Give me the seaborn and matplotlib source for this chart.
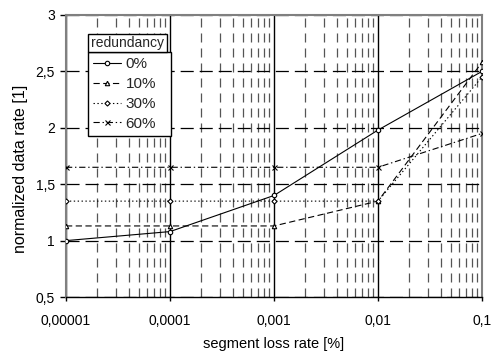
import matplotlib
matplotlib.use("Agg")
import matplotlib.pyplot as plt
import matplotlib.ticker as mticker
import seaborn as sns
import pandas as pd
from matplotlib.lines import Line2D
from matplotlib.patches import Rectangle

# Segment loss rates [%] and normalized data rate per redundancy level
loss_rate = [0.00001, 0.0001, 0.001, 0.01, 0.1]
rate_0 = [1.00, 1.08, 1.40, 1.98, 2.50]
rate_10 = [1.13, 1.13, 1.13, 1.35, 2.58]
rate_30 = [1.35, 1.35, 1.35, 1.35, 2.45]
rate_60 = [1.65, 1.65, 1.65, 1.65, 1.95]

series_labels = ["0%", "10%", "30%", "60%"]
x_tick_labels = ["0,00001", "0,0001", "0,001", "0,01", "0,1"]
y_ticks = [0.5, 1, 1.5, 2, 2.5, 3]
y_tick_labels = ["0,5", "1", "1,5", "2", "2,5", "3"]

sns.set_theme(style="white")
plt.rcParams["font.family"] = ["Liberation Sans", "DejaVu Sans"]
plt.rcParams["lines.scale_dashes"] = False

fig = plt.figure(figsize=(4.95, 3.51), dpi=100)
ax = fig.add_axes([0.1333, 0.1538, 0.8404, 0.8035])

styles = [
    dict(linestyle="-", marker="o"),
    dict(linestyle=(0, (4.5, 2.5)), marker="^"),
    dict(linestyle=(0, (1.0, 1.8)), marker="D"),
    dict(linestyle=(0, (4.5, 2, 1, 2)), marker="x"),
]
marker_sizes = [3.2, 3.2, 2.6, 3.6]

all_rates = [rate_0, rate_10, rate_30, rate_60]
df = pd.DataFrame({
    "loss": loss_rate * 4,
    "rate": [v for s in all_rates for v in s],
    "redundancy": [lab for lab in series_labels for _ in loss_rate],
})

handles = []
for lab, st, ms in zip(series_labels, styles, marker_sizes):
    sub = df[df["redundancy"] == lab]
    sns.lineplot(data=sub, x="loss", y="rate", ax=ax, color="black",
                 linewidth=0.8, linestyle=st["linestyle"], marker=st["marker"],
                 markersize=ms, markerfacecolor="white", markeredgecolor="black",
                 markeredgewidth=0.8, legend=False, zorder=5)
    handles.append(Line2D([], [], color="black", linewidth=0.8,
                          linestyle=st["linestyle"], marker=st["marker"],
                          markersize=ms, markerfacecolor="white",
                          markeredgecolor="black", markeredgewidth=0.8))

ax.set_xscale("log")
ax.set_xlim(0.00001, 0.1)
ax.set_ylim(0.5, 3)

ax.xaxis.set_major_locator(mticker.FixedLocator(loss_rate))
ax.xaxis.set_major_formatter(mticker.FixedFormatter(x_tick_labels))
ax.xaxis.set_minor_locator(mticker.LogLocator(base=10, subs=range(2, 10), numticks=20))
ax.xaxis.set_minor_formatter(mticker.NullFormatter())
ax.yaxis.set_major_locator(mticker.FixedLocator(y_ticks))
ax.yaxis.set_major_formatter(mticker.FixedFormatter(y_tick_labels))

# Gridlines: solid decades, dashed minor decades, dashed horizontal levels
ax.grid(which="major", axis="x", color="black", linewidth=1.0, linestyle="-", zorder=1)
ax.grid(which="minor", axis="x", color="#555555", linewidth=0.9, linestyle=(0, (6.5, 4.3)), zorder=1)
ax.grid(which="major", axis="y", color="black", linewidth=0.9, linestyle=(0, (9.4, 4.3)), zorder=1)
ax.set_axisbelow(True)

ax.tick_params(axis="both", which="major", direction="out", width=1,
               color="black", labelsize=10, labelcolor="black")
ax.tick_params(axis="x", which="minor", length=0)
ax.tick_params(axis="x", which="major", bottom=True, length=3, pad=9)
ax.tick_params(axis="y", which="major", left=True, length=4, pad=4)

for side in ["left", "top", "right"]:
    ax.spines[side].set_color("#808080")
    ax.spines[side].set_linewidth(1.5)
ax.spines["bottom"].set_color("black")
ax.spines["bottom"].set_linewidth(1.0)

ax.set_xlabel("segment loss rate [%]", fontsize=10.5, color="black", labelpad=7)
ax.set_ylabel("normalized data rate [1]", fontsize=11.5, color="black")
ax.yaxis.set_label_coords(-0.092, 0.455)

# Legend entries in a fixed-width frame, with the title in its own box above
leg = ax.legend(handles, series_labels, loc="upper left",
                bbox_to_anchor=(0.053, 0.571, 0.2, 0.298), mode="expand",
                fontsize=11, frameon=True,
                fancybox=False, edgecolor="black", framealpha=1,
                borderpad=0.35, labelspacing=0.38, handlelength=1.8,
                handletextpad=0.3, borderaxespad=0)
leg.get_frame().set_linewidth(1.0)
leg.set_zorder(10)

ax.add_patch(Rectangle((0.053, 0.869), 0.19, 0.064, transform=ax.transAxes,
                       facecolor="white", edgecolor="black", linewidth=1.0,
                       zorder=11, clip_on=False))
ax.text(0.148, 0.901, "redundancy", transform=ax.transAxes, fontsize=10,
        ha="center", va="center", zorder=12)

fig.savefig("out.png", dpi=100)
